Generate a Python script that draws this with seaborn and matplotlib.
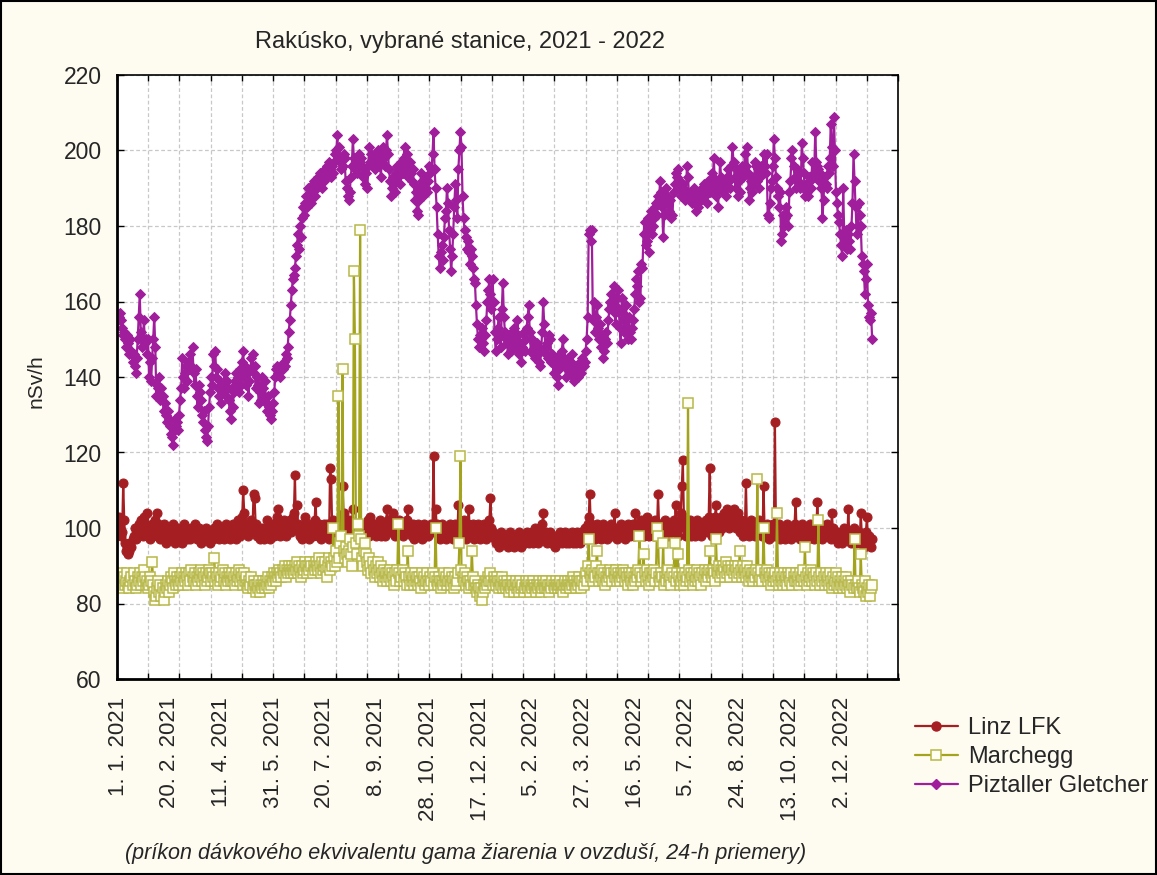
import matplotlib
matplotlib.use("Agg")
import numpy as np
import pandas as pd
import seaborn as sns
import matplotlib.pyplot as plt
from matplotlib.patches import Rectangle
from matplotlib.lines import Line2D

# ---------------- data (daily 24-h means, nSv/h) ----------------
start_date = "2021-01-01"
series_names = ["Linz LFK", "Marchegg", "Piztaller Gletcher"]

tick_days = [0, 50, 100, 150, 200, 250, 300, 350, 400, 450, 500, 550, 600, 650, 700]
tick_labels = ["1. 1. 2021", "20. 2. 2021", "11. 4. 2021", "31. 5. 2021", "20. 7. 2021",
               "8. 9. 2021", "28. 10. 2021", "17. 12. 2021", "5. 2. 2022", "27. 3. 2022",
               "16. 5. 2022", "5. 7. 2022", "24. 8. 2022", "13. 10. 2022", "2. 12. 2022"]

linz_2021 = [
    101, 103, 100, 98, 99, 112, 102, 96, 94, 95,
    93, 94, 96, 95, 97, 98, 100, 97, 99, 98,
    101, 99, 102, 100, 98, 103, 101, 99, 104, 100,
    98, 97, 99, 101, 98, 100, 102, 99, 104, 101,
    98, 97, 100, 99, 101, 98, 96, 99, 97, 98,
    100, 97, 99, 101, 98, 96, 98, 97, 100, 99,
    97, 98, 96, 99, 101, 98, 100, 97, 99, 98,
    97, 100, 98, 99, 101, 99, 97, 98, 100, 98,
    96, 98, 99, 97, 98, 100, 99, 97, 98, 96,
    98, 99, 97, 100, 98, 99, 101, 98, 97, 99,
    100, 98, 97, 99, 101, 100, 98, 99, 97, 98,
    99, 101, 98, 100, 97, 99, 102, 100, 98, 101,
    103, 110, 104, 101, 99, 100, 98, 101, 99, 102,
    100, 109, 108, 101, 98, 100, 99, 97, 98, 100,
    99, 97, 98, 100, 102, 99, 98, 97, 99, 101,
    100, 98, 101, 99, 103, 105, 100, 98, 101, 99,
    102, 100, 98, 101, 99, 100, 102, 99, 101, 103,
    104, 114, 100, 106, 101, 99, 98, 100, 97, 99,
    101, 103, 99, 98, 100, 97, 99, 101, 98, 100,
    102, 107, 100, 98, 101, 99, 97, 100, 99, 101,
    100, 98, 101, 99, 97, 116, 113, 100, 102, 98,
    99, 101, 97, 100, 99, 102, 98, 111, 104, 100,
    98, 101, 99, 102, 100, 98, 101, 105, 99, 100,
    101, 99, 97, 100, 98, 101, 99, 100, 98, 101,
    99, 100, 102, 98, 103, 100, 99, 101, 100, 98,
    101, 99, 100, 102, 98, 100, 101, 99, 98, 101,
    105, 102, 100, 101, 99, 102, 104, 100, 98, 101,
    99, 100, 102, 101, 99, 98, 100, 101, 99, 102,
    105, 101, 99, 100, 98, 101, 97, 99, 100, 98,
    101, 99, 98, 100, 97, 99, 101, 98, 100, 99,
    98, 100, 99, 101, 100, 119, 99, 105, 101, 98,
    100, 97, 99, 101, 98, 100, 99, 97, 100, 98,
    99, 101, 98, 100, 97, 99, 101, 100, 98, 106,
    101, 99, 98, 100, 102, 99, 97, 100, 101, 105,
    100, 98, 99, 101, 97, 100, 98, 99, 101, 98,
    97, 99, 100, 98, 101, 99, 97, 100, 98, 102,
    108, 100, 99, 98, 97]

linz_2022 = [
    96, 98, 97, 95, 97, 99, 96, 98, 97, 96,
    98, 97, 95, 97, 99, 96, 98, 97, 95, 96,
    98, 97, 96, 99, 97, 95, 97, 98, 96, 97,
    99, 97, 96, 98, 97, 99, 96, 98, 100, 97,
    98, 96, 99, 97, 98, 101, 104, 98, 97, 99,
    96, 98, 97, 99, 96, 98, 97, 95, 98, 97,
    96, 98, 99, 97, 96, 98, 97, 99, 96, 98,
    97, 96, 98, 97, 99, 96, 97, 98, 96, 99,
    97, 98, 96, 99, 97, 98, 100, 97, 99, 101,
    103, 109, 101, 99, 98, 100, 97, 99, 101, 98,
    100, 98, 97, 99, 101, 98, 100, 99, 97, 98,
    100, 99, 101, 98, 100, 104, 99, 97, 100, 98,
    99, 101, 98, 100, 99, 97, 100, 98, 101, 99,
    98, 100, 99, 101, 98, 104, 100, 99, 101, 98,
    100, 102, 99, 98, 101, 100, 103, 99, 98, 100,
    101, 99, 100, 98, 102, 100, 99, 109, 101, 100,
    99, 101, 98, 100, 102, 99, 101, 98, 100, 99,
    101, 100, 102, 99, 106, 101, 98, 100, 102, 104,
    111, 118, 103, 100, 98, 101, 99, 100, 102, 98,
    100, 99, 101, 98, 100, 102, 99, 101, 100, 98,
    101, 99, 100, 102, 101, 99, 103, 116, 100, 98,
    101, 99, 103, 106, 100, 102, 99, 101, 103, 100,
    102, 104, 101, 103, 105, 102, 100, 104, 101, 103,
    105, 103, 100, 102, 104, 101, 99, 102, 100, 98,
    101, 100, 112, 99, 101, 98, 100, 102, 99, 101,
    100, 98, 101, 99, 100, 102, 99, 101, 98, 111,
    100, 98, 101, 99, 97, 100, 98, 99, 101, 98,
    128, 100, 98, 99, 101, 97, 100, 99, 98, 100,
    97, 99, 101, 98, 100, 99, 97, 100, 98, 101,
    107, 99, 98, 100, 97, 99, 101, 98, 100, 99,
    98, 100, 97, 99, 101, 98, 100, 99, 97, 100,
    99, 107, 100, 98, 101, 99, 97, 100, 98, 99,
    101, 98, 100, 99, 97, 104, 100, 98, 99, 97,
    99, 96, 98, 97, 99, 96, 98, 100, 97, 99,
    98, 105, 97, 99, 96, 98, 100, 97, 96, 98,
    97, 99, 96, 104, 98, 97, 95, 97, 99, 103,
    96, 98, 97, 95, 97]

marchegg_2021 = [
    86, 87, 85, 88, 86, 84, 87, 85, 86, 88,
    85, 84, 86, 87, 85, 88, 86, 84, 85, 87,
    86, 88, 85, 87, 86, 89, 87, 85, 86, 84,
    85, 87, 86, 91, 85, 83, 81, 82, 84, 86,
    83, 85, 82, 84, 81, 83, 85, 84, 86, 83,
    85, 87, 86, 84, 88, 86, 85, 87, 86, 85,
    87, 86, 88, 85, 87, 86, 88, 87, 85, 88,
    86, 89, 87, 86, 88, 85, 87, 86, 88, 87,
    89, 86, 88, 87, 85, 88, 86, 87, 89, 88,
    86, 88, 87, 92, 86, 88, 87, 85, 88, 86,
    87, 89, 86, 88, 85, 87, 86, 88, 87, 86,
    88, 86, 87, 85, 88, 86, 87, 89, 86, 88,
    87, 85, 88, 86, 87, 85, 84, 86, 85, 87,
    84, 86, 85, 83, 85, 84, 86, 83, 85, 84,
    86, 85, 84, 86, 85, 87, 84, 86, 85, 87,
    86, 88, 87, 86, 88, 87, 89, 88, 87, 89,
    88, 90, 87, 89, 88, 90, 89, 88, 90, 89,
    88, 90, 89, 91, 88, 90, 89, 87, 90, 88,
    89, 91, 90, 88, 90, 89, 91, 90, 88, 90,
    89, 91, 90, 89, 92, 90, 88, 91, 89, 90,
    91, 89, 87, 90, 92, 89, 91, 90, 100, 92,
    90, 94, 91, 135, 92, 96, 98, 142, 94, 92,
    95, 93, 91, 94, 97, 93, 90, 95, 168, 150,
    96, 93, 101, 98, 179, 97, 92, 90, 94, 96,
    93, 91, 89, 92, 90, 88, 91, 89, 87, 90,
    88, 91, 89, 87, 90, 88, 86, 89, 87, 88,
    86, 88, 87, 89, 86, 88, 87, 85, 88, 86,
    89, 101, 88, 86, 87, 89, 86, 88, 87, 85,
    94, 87, 85, 88, 86, 87, 85, 88, 86, 87,
    85, 87, 86, 84, 88, 86, 87, 85, 86, 88,
    86, 85, 87, 86, 88, 85, 87, 100, 86, 85,
    87, 86, 84, 86, 85, 88, 86, 87, 85, 86,
    88, 86, 85, 87, 86, 84, 87, 85, 86, 88,
    96, 119, 89, 87, 86, 88, 85, 87, 86, 84,
    86, 85, 94, 87, 85, 86, 84, 83, 85, 84,
    82, 84, 81, 83, 85, 84, 86, 85, 87, 86,
    88, 86, 85, 87, 86]

marchegg_2022 = [
    85, 87, 86, 84, 86, 85, 87, 84, 86, 85,
    84, 86, 85, 83, 85, 84, 86, 85, 83, 85,
    86, 84, 85, 83, 86, 84, 85, 83, 84, 86,
    85, 84, 86, 83, 85, 84, 86, 85, 84, 83,
    85, 84, 86, 85, 83, 84, 86, 85, 84, 86,
    84, 85, 83, 85, 84, 86, 85, 84, 86, 85,
    84, 85, 86, 84, 85, 83, 85, 86, 84, 85,
    86, 85, 84, 86, 85, 87, 86, 85, 84, 86,
    85, 87, 86, 84, 86, 85, 87, 88, 86, 90,
    97, 88, 87, 89, 86, 88, 87, 90, 94, 88,
    86, 88, 87, 89, 86, 88, 85, 87, 86, 88,
    87, 89, 88, 86, 88, 87, 89, 86, 88, 87,
    86, 88, 87, 89, 88, 86, 88, 87, 85, 88,
    87, 86, 88, 85, 87, 86, 88, 87, 89, 98,
    88, 86, 87, 93, 88, 86, 89, 87, 85, 88,
    86, 88, 87, 89, 86, 88, 100, 98, 87, 86,
    88, 87, 96, 85, 87, 86, 88, 89, 86, 87,
    85, 88, 87, 96, 86, 88, 93, 87, 85, 86,
    88, 87, 85, 88, 86, 87, 133, 89, 86, 88,
    87, 85, 88, 86, 87, 89, 86, 88, 87, 85,
    88, 87, 89, 86, 88, 87, 89, 94, 88, 87,
    89, 88, 86, 97, 89, 88, 90, 87, 89, 88,
    90, 89, 87, 91, 88, 90, 89, 87, 90, 89,
    88, 90, 89, 87, 90, 88, 94, 89, 87, 90,
    88, 89, 87, 90, 88, 86, 89, 87, 88, 86,
    88, 87, 89, 113, 88, 86, 87, 89, 86, 100,
    88, 87, 89, 86, 88, 87, 85, 88, 86, 87,
    88, 86, 104, 87, 85, 88, 86, 87, 85, 88,
    86, 87, 85, 88, 87, 86, 88, 85, 87, 86,
    88, 86, 87, 85, 88, 86, 87, 89, 86, 95,
    87, 85, 88, 86, 87, 89, 86, 88, 87, 85,
    88, 86, 102, 87, 85, 88, 86, 87, 85, 88,
    86, 87, 85, 88, 86, 84, 87, 85, 86, 88,
    85, 87, 84, 86, 85, 87, 84, 86, 85, 87,
    84, 86, 85, 83, 86, 85, 84, 97, 85, 84,
    86, 84, 83, 93, 85, 84, 83, 86, 82, 84,
    83, 85, 82, 84, 85]

piztaller_2021 = [
    155, 156, 157, 155, 153, 151, 152, 150, 148, 151,
    149, 146, 150, 147, 144, 146, 143, 141, 145, 150,
    156, 162, 152, 148, 150, 155, 149, 150, 146, 150,
    140, 144, 139, 145, 150, 156, 148, 135, 138, 137,
    140, 134, 137, 135, 131, 133, 130, 128, 131, 129,
    127, 125, 124, 122, 126, 129, 127, 128, 126, 130,
    134, 137, 145, 140, 137, 141, 143, 139, 144, 142,
    146, 143, 148, 141, 138, 142, 135, 132, 138, 136,
    134, 130, 128, 131, 126, 124, 123, 127, 132, 136,
    140, 138, 146, 143, 147, 140, 142, 137, 135, 139,
    133, 136, 138, 141, 135, 139, 137, 134, 131, 129,
    137, 132, 136, 139, 141, 138, 140, 136, 142, 138,
    144, 147, 140, 143, 138, 141, 135, 139, 142, 145,
    146, 141, 143, 137, 140, 138, 133, 136, 134, 140,
    137, 135, 139, 133, 131, 135, 132, 130, 129, 131,
    133, 136, 140, 142, 143, 141, 142, 140, 143, 142,
    144, 143, 146, 145, 148, 152, 155, 159, 163, 166,
    167, 169, 172, 175, 178, 174, 180, 177, 182, 185,
    183, 186, 188, 185, 190, 187, 189, 186, 191, 192,
    188, 192, 190, 193, 191, 194, 192, 190, 193, 192,
    195, 193, 196, 194, 197, 195, 193, 196, 194, 197,
    199, 200, 204, 198, 201, 197, 195, 196, 199, 198,
    192, 190, 188, 187, 189, 193, 196, 203, 198, 195,
    197, 194, 196, 199, 197, 198, 196, 193, 195, 191,
    194, 190, 196, 201, 197, 199, 196, 198, 195, 199,
    197, 200, 196, 199, 193, 197, 201, 198, 196, 200,
    204, 199, 195, 192, 188, 190, 193, 191, 189, 194,
    196, 193, 195, 191, 197, 194, 198, 201, 196, 199,
    193, 195, 197, 194, 192, 195, 191, 187, 189, 184,
    183, 187, 190, 194, 192, 188, 191, 193, 190, 189,
    192, 196, 194, 195, 199, 205, 195, 190, 185, 178,
    172, 169, 173, 175, 171, 177, 182, 184, 190, 186,
    179, 174, 168, 172, 178, 185, 191, 187, 182, 195,
    200, 205, 201, 188, 182, 179, 177, 174, 176, 173,
    170, 174, 172, 169, 166, 165, 159, 154, 150, 148,
    151, 150, 153, 149, 147, 151, 155, 160, 163, 166,
    162, 158, 166, 160, 152]

piztaller_2022 = [
    147, 150, 153, 156, 151, 148, 158, 165, 156, 152,
    150, 149, 146, 151, 149, 147, 152, 149, 153, 150,
    148, 155, 151, 146, 149, 144, 148, 152, 147, 150,
    153, 156, 159, 152, 147, 150, 146, 149, 145, 148,
    149, 146, 144, 143, 147, 152, 160, 154, 148, 146,
    149, 145, 151, 150, 144, 146, 141, 145, 143, 140,
    138, 142, 146, 144, 147, 150, 145, 143, 140, 142,
    145, 143, 141, 144, 146, 140, 139, 141, 143, 143,
    140, 142, 144, 141, 145, 143, 144, 147, 150, 156,
    178, 179, 176, 179, 155, 160, 152, 156, 159, 153,
    150, 154, 148, 151, 145, 147, 150, 152, 149, 155,
    158, 160, 162, 159, 164, 157, 154, 161, 163, 158,
    153, 149, 161, 157, 152, 155, 159, 153, 150, 156,
    152, 150, 153, 155, 158, 162, 166, 164, 168, 160,
    161, 170, 169, 178, 181, 175, 176, 182, 173, 179,
    184, 178, 180, 182, 185, 186, 183, 188, 187, 192,
    189, 185, 177, 183, 187, 190, 188, 186, 184, 187,
    182, 183, 189, 191, 194, 193, 195, 190, 192, 188,
    191, 190, 188, 187, 189, 196, 193, 188, 187, 189,
    186, 188, 190, 187, 184, 186, 185, 188, 189, 187,
    190, 191, 188, 189, 186, 192, 190, 189, 191, 194,
    193, 198, 190, 188, 192, 185, 190, 197, 193, 191,
    189, 192, 190, 188, 193, 195, 192, 190, 196, 201,
    197, 193, 190, 195, 188, 192, 189, 194, 196, 193,
    195, 199, 196, 201, 194, 187, 190, 192, 189, 191,
    193, 197, 196, 192, 195, 190, 193, 196, 194, 199,
    196, 194, 199, 183, 182, 186, 190, 192, 196, 203,
    198, 193, 190, 188, 185, 189, 176, 178, 183, 180,
    182, 185, 183, 180, 189, 192, 198, 200, 196, 193,
    190, 195, 192, 194, 190, 191, 202, 198, 194, 188,
    191, 189, 188, 193, 192, 190, 197, 193, 194, 205,
    197, 196, 195, 192, 194, 190, 182, 187, 193, 191,
    190, 196, 194, 198, 207, 201, 196, 209, 200, 189,
    186, 183, 181, 178, 175, 172, 190, 178, 176, 179,
    174, 178, 176, 174, 180, 186, 199, 192, 185, 178,
    180, 186, 183, 180, 172, 170, 168, 162, 166, 170,
    159, 156, 155, 157, 150]

# ---------------- build long table ----------------
values = {
    "Linz LFK": linz_2021 + linz_2022,
    "Marchegg": marchegg_2021 + marchegg_2022,
    "Piztaller Gletcher": piztaller_2021 + piztaller_2022,
}
frames = []
for name in series_names:
    v = values[name]
    frames.append(pd.DataFrame({"day": np.arange(len(v)), "value": v, "station": name}))
df = pd.concat(frames, ignore_index=True)

# ---------------- styling ----------------
W, H = 1157, 875
bg = "#FEFBF0"
sns.set_style("white")
plt.rcParams["font.family"] = ["Liberation Sans", "DejaVu Sans"]

fig = plt.figure(figsize=(W / 100, H / 100), dpi=100, facecolor=bg)
ax = fig.add_axes([117 / W, 1 - 679 / H, (898 - 117) / W, (679 - 75) / H])
ax.set_facecolor("white")

styles = {
    "Linz LFK": dict(color="#A51E22", marker="o", markersize=6.5, markerfacecolor="#A51E22",
                     markeredgecolor="#A51E22", linewidth=1.6),
    "Marchegg": dict(color="#A3A31E", marker="s", markersize=6.5, markerfacecolor="#FFFFF4",
                     markeredgecolor="#B8B84A", markeredgewidth=1.1, linewidth=1.6),
    "Piztaller Gletcher": dict(color="#A01E9C", marker="D", markersize=5.5, markerfacecolor="#A01E9C",
                               markeredgecolor="#A01E9C", linewidth=1.6),
}

for name in series_names:
    sub = df[df["station"] == name]
    sns.lineplot(data=sub, x="day", y="value", ax=ax, estimator=None, sort=False,
                 legend=False, **styles[name])

x0, x1 = -1, 754
ax.set_xlim(x0, x1)
ax.set_ylim(60, 220)
ax.xaxis.remove_overlapping_locs = False
ax.set_yticks(np.arange(60, 221, 20))
ax.set_xticks(np.linspace(x0, x1, 26))
ax.set_xticklabels([])
ax.set_xticks(tick_days, minor=True)
ax.set_xticklabels(tick_labels, minor=True, rotation=90, ha="center", va="top", fontsize=16)
ax.tick_params(axis="x", which="minor", length=0, pad=13)
ax.tick_params(axis="x", which="major", direction="in", length=4, top=True, bottom=True,
               color="black", width=1)
ax.tick_params(axis="y", which="major", direction="in", length=5, left=True, right=True,
               labelsize=16.5, pad=11, color="black", width=1)
ax.grid(True, which="major", color="#C8C8C8", linestyle=(0, (3, 2)), linewidth=0.9)
ax.set_xlabel("")
ax.set_ylabel("")
for side in ["left", "bottom"]:
    ax.spines[side].set_linewidth(2.0)
for side in ["top", "right"]:
    ax.spines[side].set_linewidth(1.2)
for s in ax.spines.values():
    s.set_color("black")
    s.set_zorder(5)

fig.text(460 / W, 1 - 42 / H, "Rakúsko, vybrané stanice, 2021 - 2022", ha="center", va="center",
         fontsize=17)
fig.text(36 / W, 1 - 381 / H, "nSv/h", rotation=90, ha="center", va="center", fontsize=15)
fig.text(466 / W, 1 - 853 / H,
         "(príkon dávkového ekvivalentu gama žiarenia v ovzduší, 24-h priemery)",
         ha="center", va="center", fontsize=15.5, style="italic")

handles = [Line2D([0], [0], **styles[n]) for n in series_names]
fig.legend(handles, series_names, loc="center left", bbox_to_anchor=(915 / W, 1 - 757 / H),
           frameon=False, fontsize=17, handlelength=1.8, handletextpad=0.45,
           labelspacing=0.3, borderpad=0, borderaxespad=0)

fig.patches.append(Rectangle((0.001, 0.001), 0.998, 0.998, transform=fig.transFigure,
                             fill=False, edgecolor="black", linewidth=1.5))

fig.savefig("out.png", dpi=100, facecolor=bg)
